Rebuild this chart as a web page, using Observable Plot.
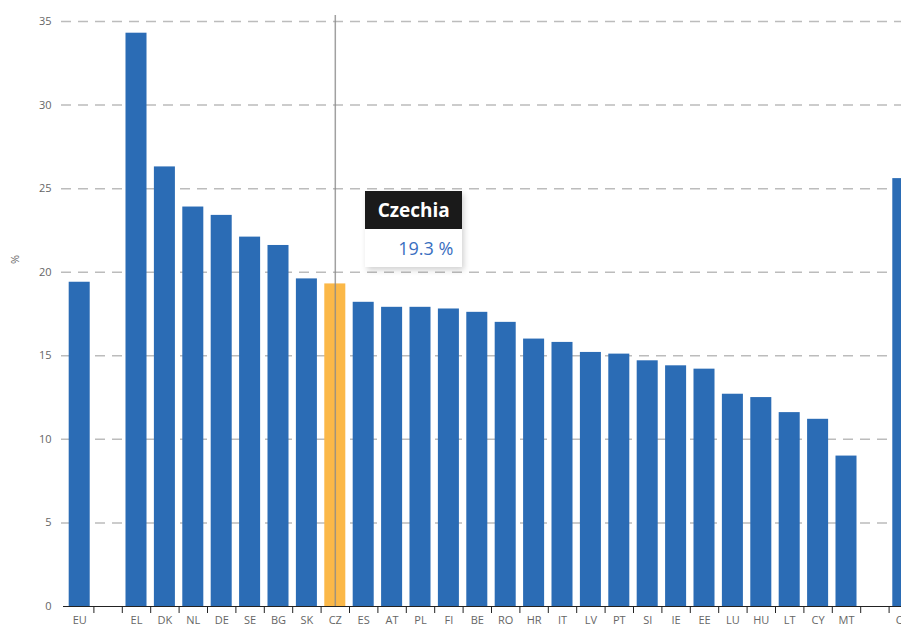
<!DOCTYPE html>
<html>
<head>
<meta charset="utf-8">
<script src="https://cdn.jsdelivr.net/npm/d3@7"></script>
<script src="https://cdn.jsdelivr.net/npm/@observablehq/plot@0.6"></script>
<style>
  html, body { margin: 0; padding: 0; background: #fff; overflow: hidden; }
  #wrap { position: relative; width: 901px; height: 628px; overflow: hidden; font-family: "Open Sans", sans-serif; }
  #wrap svg { max-width: none !important; }
  #tip { position: absolute; width: 97px; box-shadow: 2px 3px 6px rgba(0,0,0,0.18); background: #fff; }
  #tip .hd { background: #1a1a1a; color: #fff; font-weight: 700; font-size: 19px; height: 38px; line-height: 38px; text-align: center; }
  #tip .bd { color: #3a6fbf; font-size: 18px; height: 38px; line-height: 38px; text-align: right; padding-right: 9px; }
</style>
</head>
<body>
<div id="wrap"></div>
<script>
const countries = ["EU","_gap1","EL","DK","NL","DE","SE","BG","SK","CZ","ES","AT","PL","FI","BE","RO","HR","IT","LV","PT","SI","IE","EE","LU","HU","LT","CY","MT","_gap2","CH"];
const values = [19.4,null,34.3,26.3,23.9,23.4,22.1,21.6,19.6,19.3,18.2,17.9,17.9,17.8,17.6,17.0,16.0,15.8,15.2,15.1,14.7,14.4,14.2,12.7,12.5,11.6,11.2,9.0,null,25.6];
const yTicks = [0,5,10,15,20,25,30,35];
const highlight = "CZ";
const highlightName = "Czechia";
const unit = "%";

const blue = "#2b6cb5", orange = "#fbb848";
const rows = countries.map((c, i) => ({country: c, value: values[i]})).filter(d => d.value != null);

const W = 920, mL = 65, mR = 3;
const step = (W - mL - mR) / countries.length;

const plot = Plot.plot({
  width: W,
  height: 628,
  marginLeft: mL,
  marginRight: mR,
  marginTop: 21,
  marginBottom: 22,
  style: {fontFamily: "Open Sans, sans-serif", background: "#fff", overflow: "visible", maxWidth: "none"},
  x: {domain: countries, paddingInner: 0.26, paddingOuter: 0.13, round: false, label: null},
  y: {domain: [0, 35], label: null},
  marks: [
    Plot.ruleY(yTicks.filter(v => v > 0), {stroke: "#bcbcbc", strokeWidth: 1.5, strokeDasharray: "10,7", insetLeft: -4}),
    Plot.barY(rows, {x: "country", y: "value", fill: d => d.country === highlight ? orange : blue}),
    Plot.ruleX([highlight], {stroke: "#8a8a8a", strokeOpacity: 0.8, strokeWidth: 1.5, insetTop: -6}),
    Plot.ruleY([0], {stroke: "#222", strokeWidth: 1.2, insetLeft: -2}),
    Plot.axisX({tickSize: 7, dx: step / 2, tickFormat: () => "", color: "#222"}),
    Plot.axisX({tickSize: 0, tickPadding: 10, fontSize: 11, color: "#666", tickFormat: d => d.startsWith("_") ? "" : d}),
    Plot.axisY({ticks: yTicks, tickSize: 0, tickPadding: 14, fontSize: 11, color: "#666", label: null}),
    Plot.text([unit], {frameAnchor: "left", rotate: -90, dx: -50, dy: -50, fontSize: 11, fill: "#666"})
  ]
});

const wrap = document.getElementById("wrap");
wrap.appendChild(plot);

const xs = plot.scale("x"), ys = plot.scale("y");
const cx = xs.apply(highlight) + xs.bandwidth / 2;
const vy = ys.apply(values[countries.indexOf(highlight)]);
const tip = document.createElement("div");
tip.id = "tip";
tip.style.left = (cx + 30.5) + "px";
tip.style.top = (vy - 92) + "px";
const hd = document.createElement("div"); hd.className = "hd"; hd.textContent = highlightName;
const bd = document.createElement("div"); bd.className = "bd"; bd.textContent = values[countries.indexOf(highlight)].toFixed(1) + " " + unit;
tip.appendChild(hd); tip.appendChild(bd);
wrap.appendChild(tip);
</script>
</body>
</html>
